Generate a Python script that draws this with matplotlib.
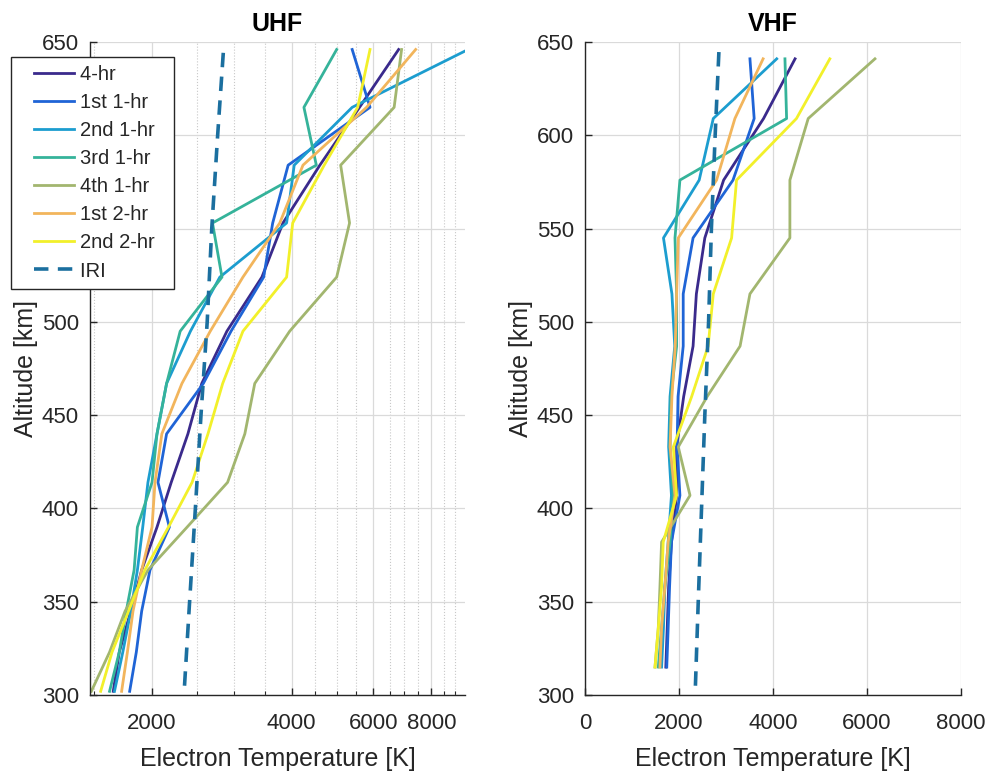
import matplotlib
matplotlib.use("Agg")
import matplotlib.pyplot as plt
from matplotlib.legend_handler import HandlerLine2D
from matplotlib.ticker import FixedLocator, FixedFormatter, NullFormatter

plt.rcParams["font.family"] = ["Liberation Sans", "DejaVu Sans"]

# ── data ──
labels = ["4-hr", "1st 1-hr", "2nd 1-hr", "3rd 1-hr", "4th 1-hr", "1st 2-hr", "2nd 2-hr"]
colors = ["#3a2a8c", "#1f64d6", "#1c9dcf", "#35b39a", "#a2b66f", "#f2b55c", "#f2f02a"]

uhf_alt = [302, 323, 345, 367, 390, 414, 440, 467, 495, 524, 553, 584, 615, 646]
uhf_4hr = [1650, 1700, 1800, 1900, 2050, 2200, 2390, 2560, 2900, 3450, 3830, 4600, 5600, 6800]
uhf_1st1 = [1790, 1850, 1900, 1980, 2180, 2060, 2150, 2580, 2960, 3480, 3640, 3930, 5900, 5400]
uhf_2nd1 = [1660, 1730, 1800, 1860, 1910, 1960, 2050, 2150, 2420, 2800, 3900, 4050, 5400, 9600]
uhf_3rd1 = [1620, 1700, 1760, 1830, 1860, 2000, 2050, 2150, 2300, 2830, 2700, 4520, 4250, 5000]
uhf_4th1 = [1480, 1620, 1750, 1960, 2380, 2910, 3170, 3330, 3960, 5000, 5330, 5100, 6650, 6900]
uhf_1st2 = [1720, 1770, 1820, 1900, 2000, 2030, 2100, 2320, 2670, 3140, 3770, 4230, 5800, 7400]
uhf_2nd2 = [1550, 1640, 1780, 1930, 2170, 2440, 2640, 2840, 3140, 3900, 4020, 4700, 5550, 5900]

vhf_alt = [315, 336, 358, 382, 407, 433, 460, 487, 515, 545, 576, 609, 641]
vhf_4hr = [1720, 1750, 1780, 1840, 1950, 1950, 2100, 2300, 2370, 2550, 2950, 3800, 4470]
vhf_1st1 = [1740, 1770, 1800, 1840, 2020, 1960, 1980, 2090, 2090, 2300, 3150, 3600, 3510]
vhf_2nd1 = [1630, 1670, 1700, 1770, 1840, 1780, 1810, 1910, 1850, 1670, 2430, 2730, 4080]
vhf_3rd1 = [1560, 1630, 1700, 1810, 1880, 1810, 1830, 1950, 1950, 1915, 2020, 4290, 4255]
vhf_4th1 = [1490, 1560, 1595, 1630, 2235, 1985, 2600, 3300, 3510, 4360, 4360, 4750, 6170]
vhf_1st2 = [1595, 1630, 1700, 1770, 1915, 1810, 1850, 1920, 1950, 1985, 2800, 3190, 3790]
vhf_2nd2 = [1490, 1560, 1630, 1665, 1950, 1880, 2270, 2620, 2730, 3120, 3225, 4500, 5210]

iri_alt = [305, 350, 400, 450, 500, 550, 600, 645]
iri_te = [2350, 2410, 2480, 2550, 2630, 2690, 2770, 2850]

uhf_series = [uhf_4hr, uhf_1st1, uhf_2nd1, uhf_3rd1, uhf_4th1, uhf_1st2, uhf_2nd2]
vhf_series = [vhf_4hr, vhf_1st1, vhf_2nd1, vhf_3rd1, vhf_4th1, vhf_1st2, vhf_2nd2]

uhf_major = [2000, 4000, 6000, 8000]
uhf_minor = [1500, 2500, 3000, 3500, 4500, 5000, 5500, 6500, 7000, 7500, 8500, 9000]
vhf_ticks = [0, 2000, 4000, 6000, 8000]
alt_ticks = [300, 350, 400, 450, 500, 550, 600, 650]

AX_COL = "#262626"
IRI_COL = "#1b6f9f"
IRI_DASH = (0, (4, 2.6))


class IndentedLine(HandlerLine2D):
    """Legend line that starts a bit inside the handle box (MATLAB-like padding)."""

    def __init__(self, indent=0.3, **kw):
        super().__init__(**kw)
        self.indent = indent

    def get_xdata(self, legend, xdescent, ydescent, width, height, fontsize):
        xdata, xdata_marker = super().get_xdata(legend, xdescent, ydescent,
                                                width, height, fontsize)
        x0 = -xdescent + self.indent * width
        return [x0, xdata[-1]], xdata_marker


def style_axes(ax, title):
    for side in ("top", "right"):
        ax.spines[side].set_visible(False)
    for side in ("left", "bottom"):
        ax.spines[side].set_color(AX_COL)
        ax.spines[side].set_linewidth(1.0)
    ax.tick_params(which="both", direction="in", colors=AX_COL, labelsize=16)
    ax.tick_params(which="major", length=5, width=1.0)
    ax.tick_params(which="minor", length=3, width=0.8)
    ax.tick_params(axis="x", which="both", pad=13)
    ax.tick_params(axis="y", which="both", pad=8)
    ax.set_ylim(300, 650)
    ax.set_yticks(alt_ticks)
    ax.grid(True, which="major", color="#dadada", linewidth=0.9)
    ax.set_axisbelow(True)
    ax.set_title(title, fontsize=18, fontweight="bold", color="black", pad=8)
    ax.set_xlabel("Electron Temperature [K]", fontsize=18, color=AX_COL, labelpad=9)
    ax.set_ylabel("Altitude [km]", fontsize=18, color=AX_COL, labelpad=3)


fig = plt.figure(figsize=(9.92, 7.74), dpi=100)
ax1 = fig.add_axes([0.0907, 0.102, 0.378, 0.8437])
ax2 = fig.add_axes([0.5897, 0.102, 0.379, 0.8437])

# ── UHF ──
for vals, lab, col in zip(uhf_series, labels, colors):
    ax1.plot(vals, uhf_alt, color=col, linewidth=2.0, label=lab)
ax1.plot(iri_te, iri_alt, color=IRI_COL, linewidth=2.6, linestyle=IRI_DASH, label="IRI")
ax1.set_xscale("log")
ax1.set_xlim(1470, 9450)
ax1.xaxis.set_major_locator(FixedLocator(uhf_major))
ax1.xaxis.set_major_formatter(FixedFormatter([str(v) for v in uhf_major]))
ax1.xaxis.set_minor_locator(FixedLocator(uhf_minor))
ax1.xaxis.set_minor_formatter(NullFormatter())
ax1.grid(True, which="minor", axis="x", color="#c8c8c8", linewidth=0.8, linestyle=":")
style_axes(ax1, "UHF")

# trailing spaces give the MATLAB-style right padding inside the legend box
handles, leg_labels = ax1.get_legend_handles_labels()
leg = ax1.legend(handles, [l + "  " for l in leg_labels],
                 loc="upper left", bbox_to_anchor=(-0.211, 0.977), fontsize=14.5,
                 frameon=True, fancybox=False, framealpha=1.0, edgecolor=AX_COL,
                 handlelength=2.75, handletextpad=0.3, labelspacing=0.45,
                 borderpad=0.4, borderaxespad=0,
                 handler_map={plt.Line2D: IndentedLine(indent=0.27)})
leg.get_frame().set_linewidth(1.0)
for t in leg.get_texts():
    t.set_color(AX_COL)

# ── VHF ──
for vals, lab, col in zip(vhf_series, labels, colors):
    ax2.plot(vals, vhf_alt, color=col, linewidth=2.0, label=lab)
ax2.plot(iri_te, iri_alt, color=IRI_COL, linewidth=2.6, linestyle=IRI_DASH, label="IRI")
ax2.set_xlim(0, 8000)
ax2.set_xticks(vhf_ticks)
style_axes(ax2, "VHF")

fig.savefig("out.png", dpi=100)
